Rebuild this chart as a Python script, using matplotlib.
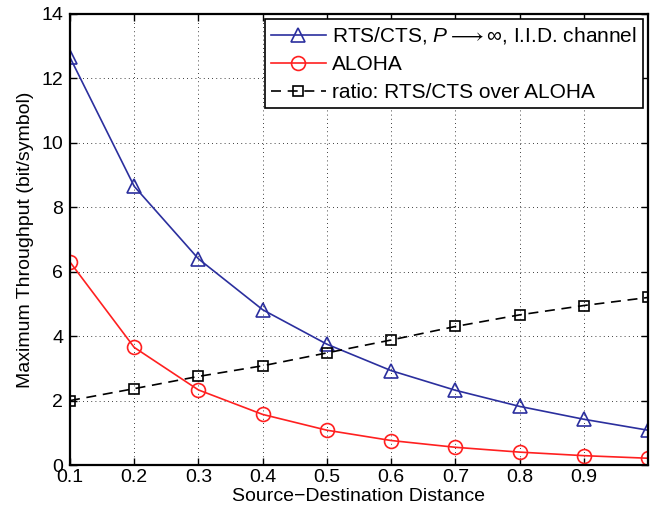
import numpy as np
import matplotlib
matplotlib.use('Agg')
import matplotlib.pyplot as plt

plt.rcParams['font.family'] = ['Liberation Sans', 'DejaVu Sans']
plt.rcParams['mathtext.fontset'] = 'custom'
plt.rcParams['mathtext.rm'] = 'Liberation Sans'
plt.rcParams['mathtext.it'] = 'Liberation Sans:italic'

# 数据
distance = [0.1, 0.2, 0.3, 0.4, 0.5, 0.6, 0.7, 0.8, 0.9, 1.0]
rts_cts = [12.65, 8.65, 6.4, 4.82, 3.75, 2.93, 2.32, 1.82, 1.42, 1.08]
aloha = [6.3, 3.65, 2.33, 1.57, 1.08, 0.76, 0.55, 0.40, 0.29, 0.21]
ratio = [2.0, 2.37, 2.75, 3.08, 3.48, 3.88, 4.3, 4.66, 4.95, 5.2]
xtick_labels = ['0.1', '0.2', '0.3', '0.4', '0.5', '0.6', '0.7', '0.8', '0.9']

fig = plt.figure(figsize=(6.67, 5.16), dpi=100)
ax = fig.add_axes([70 / 667, 51 / 516, 578 / 667, 451 / 516])

ax.plot(distance, rts_cts, color='#2b2f9e', marker='^', markersize=10,
        markerfacecolor='none', markeredgewidth=1.2, linewidth=1.2,
        label=r'RTS/CTS, $P{\longrightarrow}\infty$, I.I.D. channel')
ax.plot(distance, aloha, color='#ff2020', marker='o', markersize=10,
        markerfacecolor='none', markeredgewidth=1.2, linewidth=1.2,
        label='ALOHA')
ax.plot(distance, ratio, color='black', marker='s', markersize=6.5,
        markerfacecolor='none', markeredgewidth=1.2, linewidth=1.2,
        linestyle=(0, (6, 4)), label='ratio: RTS/CTS over ALOHA')

ax.set_xlim(0.1, 1.0)
ax.set_ylim(0, 14)
ax.set_xticks(distance[:-1])
ax.set_xticklabels(xtick_labels)
ax.set_yticks([0, 2, 4, 6, 8, 10, 12, 14])
ax.grid(True, color='black', linestyle=(0, (1, 4)), linewidth=0.6)
ax.tick_params(direction='in', top=True, right=True, labelsize=14, length=5,
               width=1.0)
ax.tick_params(axis='x', pad=3)
ax.tick_params(axis='y', pad=5)
for s in ax.spines.values():
    s.set_linewidth(1.6)

ax.set_xlabel('Source\u2212Destination Distance', fontsize=14, labelpad=1)
ax.set_ylabel('Maximum Throughput (bit/symbol)', fontsize=14, labelpad=5)

leg = ax.legend(loc='upper right', fontsize=15, fancybox=False, framealpha=1,
                edgecolor='black', borderaxespad=0.25, handlelength=2.6,
                labelspacing=0.42, borderpad=0.3, handletextpad=0.3)
leg.get_frame().set_linewidth(1.2)

fig.savefig('out.png', dpi=100)
